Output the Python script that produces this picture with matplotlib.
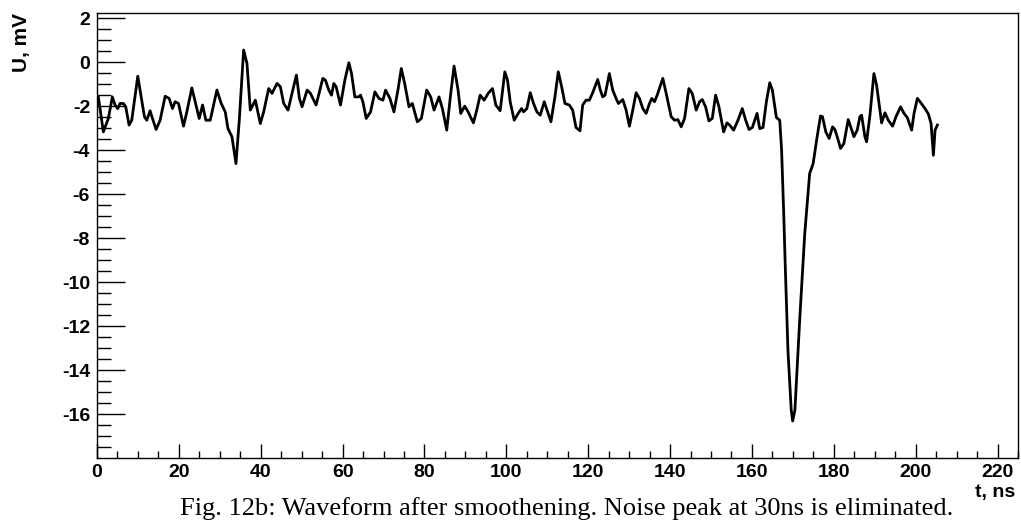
import numpy as np
import matplotlib.pyplot as plt
from matplotlib.ticker import MultipleLocator

# =============================================================================
# DATA
# =============================================================================
t_ns = [
    0.33, 1.55, 2.77, 3.75, 4.41, 5.06, 5.63, 6.45, 7.02, 7.83, 8.49, 9.96,
    10.93, 11.59, 12.16, 12.97, 13.55, 14.44, 15.42, 16.65, 17.63, 18.44,
    19.09, 19.91, 21.13, 21.95, 23.17, 23.99, 24.97, 25.79, 26.60, 27.66,
    29.29, 30.35, 31.33, 31.99, 32.97, 33.95, 34.76, 35.82, 36.64, 37.45,
    38.68, 39.90, 40.72, 41.94, 42.76, 43.98, 44.80, 45.61, 46.67, 47.65,
    48.71, 49.45, 50.10, 51.33, 52.14, 52.96, 53.53, 54.35, 55.16, 55.81,
    56.63, 57.28, 57.85, 58.42, 59.49, 60.55, 61.53, 62.18, 62.99, 63.97,
    64.38, 64.95, 65.77, 66.83, 67.89, 68.87, 69.85, 70.50, 71.56, 72.54,
    73.52, 74.34, 75.16, 76.22, 77.03, 78.26, 79.24, 80.54, 81.52, 82.34,
    83.56, 84.38, 85.44, 86.42, 87.23, 88.21, 88.86, 89.84, 90.66, 91.96,
    92.78, 93.60, 94.58, 95.56, 96.62, 97.43, 98.49, 99.63, 100.29, 100.94,
    101.92, 102.90, 103.72, 104.20, 105.02, 105.84, 106.65, 107.47, 108.28,
    109.26, 110.08, 110.90, 111.87, 112.69, 113.51, 114.32, 115.38, 116.20,
    117.02, 118.00, 118.65, 119.46, 120.28, 121.10, 122.32, 122.97, 123.54,
    124.12, 125.17, 125.99, 126.81, 127.38, 128.44, 129.26, 130.07, 130.89,
    131.70, 132.52, 133.34, 134.15, 134.97, 135.54, 136.19, 136.85, 138.23,
    139.05, 140.27, 141.09, 141.91, 142.72, 143.54, 144.60, 145.41, 146.39,
    147.21, 147.86, 148.68, 149.49, 150.31, 151.13, 151.94, 153.08, 153.90,
    154.55, 155.53, 156.59, 157.65, 158.47, 159.29, 160.10, 161.25, 161.90,
    162.71, 163.53, 164.35, 164.99, 165.98, 166.79, 167.25, 167.75, 168.15,
    168.80, 169.60, 169.95, 170.50, 171.70, 172.90, 174.10, 174.95, 175.93,
    176.75, 177.24, 178.05, 178.87, 179.69, 180.26, 180.83, 181.65, 182.46,
    183.52, 184.34, 184.91, 185.72, 186.38, 186.79, 187.60, 188.01, 188.83,
    189.80, 190.46, 191.68, 192.50, 193.31, 194.37, 195.19, 196.33, 197.15,
    197.96, 199.02, 199.60, 200.41, 201.07, 202.29, 203.11, 203.76, 204.33,
    204.74, 205.31,
]
u_mV = [
    -1.58, -3.17, -2.56, -1.58, -1.95, -2.11, -1.88, -1.88, -2.03, -2.86, -2.64, -0.64,
    -1.73, -2.48, -2.64, -2.21, -2.56, -3.06, -2.64, -1.55, -1.65, -2.11,
    -1.80, -1.88, -2.91, -2.26, -1.17, -1.80, -2.56, -1.95, -2.64, -2.64,
    -1.27, -1.88, -2.26, -3.02, -3.39, -4.61, -2.64, 0.55, -0.06, -2.18,
    -1.73, -2.79, -2.26, -1.20, -1.42, -0.97, -1.12, -1.88, -2.18, -1.42,
    -0.59, -1.65, -2.03, -1.27, -1.42, -1.73, -1.95, -1.35, -0.74, -0.82,
    -1.27, -1.50, -0.97, -1.12, -1.95, -0.82, -0.03, -0.52, -1.58, -1.58,
    -1.50, -1.80, -2.56, -2.26, -1.35, -1.65, -1.73, -1.27, -1.65, -2.26,
    -1.27, -0.29, -0.97, -2.03, -1.88, -2.71, -2.56, -1.27, -1.58, -2.18,
    -1.58, -2.11, -3.09, -1.42, -0.18, -1.27, -2.33, -2.00, -2.26, -2.76,
    -2.18, -1.50, -1.73, -1.42, -1.20, -1.95, -2.21, -0.44, -0.82, -1.80,
    -2.64, -2.33, -2.11, -2.26, -2.11, -1.39, -1.88, -2.26, -2.41,
    -1.80, -2.26, -2.71, -1.58, -0.44, -1.12, -1.88, -1.95, -2.18,
    -2.97, -3.12, -1.95, -1.73, -1.73, -1.39, -0.79, -1.27, -1.58,
    -1.50, -0.52, -1.27, -1.65, -1.88, -1.70, -2.18, -2.91, -2.18,
    -1.39, -1.65, -2.11, -2.33, -1.88, -1.65, -1.80, -1.50, -0.74,
    -1.42, -2.48, -2.64, -2.61, -2.94, -2.56, -1.20, -1.42, -2.18,
    -1.80, -1.70, -2.03, -2.67, -2.56, -1.50, -2.03, -3.17, -2.76,
    -2.86, -3.09, -2.64, -2.11, -2.64, -3.06, -2.97, -2.33, -3.02,
    -2.97, -1.80, -0.94, -1.27, -2.52, -2.64, -4.00, -6.80, -9.30,
    -13.10, -15.80, -16.30, -15.80, -11.60, -7.80, -5.06, -4.61, -3.39,
    -2.45, -2.48, -3.17, -3.47, -2.94, -3.06, -3.39, -3.92, -3.70,
    -2.61, -3.06, -3.39, -3.09, -2.48, -2.41, -3.39, -3.62, -2.41,
    -0.52, -1.05, -2.76, -2.30, -2.64, -2.91, -2.48, -2.03, -2.33,
    -2.52, -3.09, -2.33, -1.65, -1.80, -2.11, -2.36, -2.79, -4.23,
    -3.09, -2.86,
]

x_major = np.arange(0, 221, 20)
y_major = np.arange(-16, 3, 2)
caption = "Fig. 12b: Waveform after smoothening. Noise peak at 30ns is eliminated."

# =============================================================================
# PLOT
# =============================================================================
fig = plt.figure(figsize=(10.21, 5.23), dpi=100)
ax = fig.add_axes([97 / 1021, 1 - 458 / 523, (1018 - 97) / 1021, (458 - 13) / 523])

ax.plot(t_ns, u_mV, color="black", linewidth=2.0, solid_joinstyle="round")

ax.set_xlim(0, 225)
ax.set_ylim(-17.98, 2.23)
ax.set_xticks(x_major)
ax.set_yticks(y_major)
ax.xaxis.set_minor_locator(MultipleLocator(5))
ax.yaxis.set_minor_locator(MultipleLocator(0.5))

tick_font = dict(family="Liberation Sans", weight="bold", size=14)
ax.set_xticklabels([str(v) for v in x_major], **tick_font)
ax.set_yticklabels([str(v) for v in y_major], **tick_font)

ax.tick_params(axis="x", which="major", direction="in", length=10, width=1, pad=4,
               top=False)
ax.tick_params(axis="x", which="minor", direction="in", length=5, width=1, top=False)
ax.tick_params(axis="y", which="major", direction="in", length=20, width=1, pad=5,
               right=False)
ax.tick_params(axis="y", which="minor", direction="in", length=10, width=1, right=False)
for sp in ax.spines.values():
    sp.set_linewidth(1.0)

fig.text(22 / 1021, 1 - 13 / 523, "U, mV", rotation=90, ha="center", va="top",
         family="Liberation Sans", weight="bold", size=15)
fig.text(1015 / 1021, 1 - 484 / 523, "t, ns", ha="right", va="top", **tick_font)
fig.text(567 / 1021, 1 - 515 / 523, caption, ha="center", va="baseline",
         family="Liberation Serif", size=19)

fig.savefig("out.png", dpi=100)
